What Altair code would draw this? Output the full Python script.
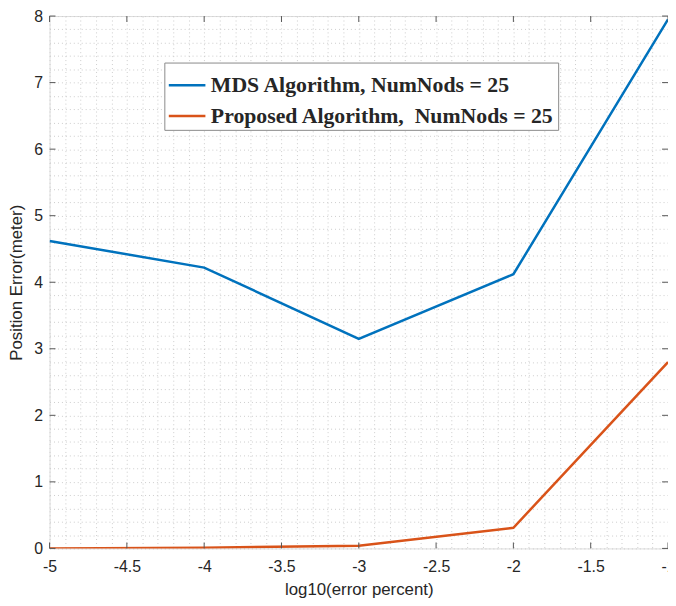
import altair as alt
import pandas as pd

x_vals = [-5, -4, -3, -2, -1]
mds_vals = [4.62, 4.22, 3.15, 4.12, 7.95]
prop_vals = [0.0, 0.01, 0.04, 0.31, 2.80]
series_names = ["MDS Algorithm, NumNods = 25", "Proposed Algorithm,\u00a0 NumNods = 25"]
series_colors = ["#0072BD", "#D95319"]

x_major = [-5, -4.5, -4, -3.5, -3, -2.5, -2, -1.5, -1]
y_major = [0, 1, 2, 3, 4, 5, 6, 7, 8]
x_minor = [round(-5 + 0.1 * i, 1) for i in range(41)]
y_minor = [round(0.2 * i, 1) for i in range(41)]

rows = []
for xv, m, p in zip(x_vals, mds_vals, prop_vals):
    rows.append({"x": xv, "y": m, "s": series_names[0]})
    rows.append({"x": xv, "y": p, "s": series_names[1]})
df = pd.DataFrame(rows)

W, H = 625, 538
xs = alt.Scale(domain=[-5, -1], nice=False, zero=False)
ys = alt.Scale(domain=[0, 8], nice=False, zero=False)

xaxis = alt.Axis(values=x_minor, grid=True, gridDash=[1, 3], gridColor="#cccccc",
                 gridWidth=1, ticks=False, domain=False,
                 labelExpr="abs(datum.value*2 - round(datum.value*2)) < 0.001 ? toString(datum.value) : ''",
                 labelFont="Liberation Sans", labelFontSize=16, labelColor="#262626",
                 labelPadding=10, title="log10(error percent)", titleFont="Liberation Sans",
                 titleFontSize=17, titleFontWeight="normal", titleColor="#262626", titlePadding=8,
                 labelFlush=False, labelOverlap=False, labelBound=False)
yaxis = alt.Axis(values=y_minor, grid=True, gridDash=[1, 3], gridColor="#cccccc",
                 gridWidth=1, ticks=False, domain=False,
                 labelExpr="abs(datum.value - round(datum.value)) < 0.001 ? toString(datum.value) : ''",
                 labelFont="Liberation Sans", labelFontSize=16, labelColor="#262626",
                 labelPadding=7, title="Position Error(meter)", titleFont="Liberation Sans",
                 titleFontSize=17, titleFontWeight="normal", titleColor="#262626", titlePadding=8,
                 labelFlush=False, labelOverlap=False, labelBound=False)

lines = alt.Chart(df).mark_line(strokeWidth=2.5, clip=True).encode(
    x=alt.X("x:Q", scale=xs, axis=xaxis),
    y=alt.Y("y:Q", scale=ys, axis=yaxis),
    color=alt.Color("s:N", scale=alt.Scale(domain=series_names, range=series_colors),
                    sort=series_names,
                    legend=alt.Legend(title=None, orient="none", legendX=116, legendY=47,
                                      symbolType="stroke", symbolSize=1369, symbolStrokeWidth=2.5,
                                      labelFont="Liberation Serif", labelFontWeight="bold",
                                      labelFontSize=22, labelColor="#262626", labelLimit=600,
                                      fillColor="white", strokeColor="#8a8a8a", padding=3,
                                      rowPadding=0, labelOffset=4)),
)

tick_color = "#555555"
xt = pd.DataFrame({"x": x_major})
yt = pd.DataFrame({"y": y_major})
bottom_ticks = alt.Chart(xt).mark_rule(color=tick_color, strokeWidth=1).encode(
    x=alt.X("x:Q", scale=xs, axis=xaxis), y=alt.value(H), y2=alt.value(H - 6))
top_ticks = alt.Chart(xt).mark_rule(color=tick_color, strokeWidth=1).encode(
    x=alt.X("x:Q", scale=xs, axis=xaxis), y=alt.value(0), y2=alt.value(6))
left_ticks = alt.Chart(yt).mark_rule(color=tick_color, strokeWidth=1).encode(
    y=alt.Y("y:Q", scale=ys, axis=yaxis), x=alt.value(0), x2=alt.value(6))
right_ticks = alt.Chart(yt).mark_rule(color=tick_color, strokeWidth=1).encode(
    y=alt.Y("y:Q", scale=ys, axis=yaxis), x=alt.value(W), x2=alt.value(W - 6))

chart = alt.layer(lines, bottom_ticks, top_ticks, left_ticks, right_ticks).properties(
    width=W, height=H,
    autosize=alt.AutoSizeParams(type="none"),
    padding={"left": 42, "top": 5, "right": 0, "bottom": 50},
).configure_view(stroke="#555555", strokeWidth=1).configure(background="white")

chart.save("out.html", embed_options={"renderer": "svg", "actions": False})
